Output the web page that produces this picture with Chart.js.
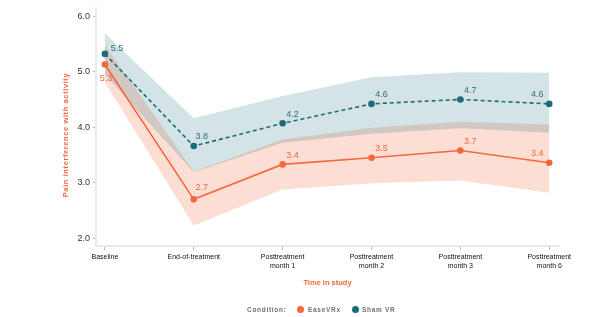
<!DOCTYPE html>
<html>
<head>
<meta charset="utf-8">
<script src="https://cdn.jsdelivr.net/npm/chart.js@4"></script>
<style>
  body { margin: 0; background: #fff; }
  #wrap { position: relative; width: 604px; height: 317px; }
  .leg { position: absolute; top: 304px; font: bold 6.5px "Liberation Sans", Arial, sans-serif; color: #707070; letter-spacing: 0.7px; line-height: 12px; white-space: nowrap; }
  .dot { position: absolute; top: 306px; width: 7px; height: 7px; border-radius: 50%; }
</style>
</head>
<body>
<div id="wrap">
  <canvas id="painChart" width="604" height="317"></canvas>
  <span class="leg" style="left:247px">Condition:</span>
  <span class="dot" style="left:296.5px;background:#f4683a"></span>
  <span class="leg" style="left:308px">EaseVRx</span>
  <span class="dot" style="left:351.5px;background:#1d6a78"></span>
  <span class="leg" style="left:362px">Sham VR</span>
</div>
<script>
const timepoints = ['Baseline', 'End-of-treatment', ['Posttreatment', 'month 1'], ['Posttreatment', 'month 2'], ['Posttreatment', 'month 3'], ['Posttreatment', 'month 6']];

const easeMeans = [5.13, 2.70, 3.33, 3.45, 3.58, 3.36];
const easeLow = [4.81, 2.23, 2.88, 2.99, 3.04, 2.82];
const easeHigh = [5.48, 3.20, 3.78, 3.99, 4.10, 4.05];
const easeLabels = ['5.3', '2.7', '3.4', '3.5', '3.7', '3.4'];

const shamMeans = [5.32, 3.66, 4.07, 4.42, 4.50, 4.42];
const shamLow = [4.95, 3.19, 3.72, 3.88, 3.98, 3.90];
const shamHigh = [5.69, 4.16, 4.56, 4.90, 4.99, 4.98];
const shamLabels = ['5.5', '3.8', '4.2', '4.6', '4.7', '4.6'];

const yTicks = [2, 3, 4, 5, 6];

const ORANGE = '#f4683a';
const TEAL = '#1d6a78';
const FONT = '"Liberation Sans", Arial, sans-serif';

function pts(arr) {
    return arr.map((v, i) => ({x: i, y: v}));
}

// value labels next to the mean points
const pointLabels = {
    id: 'pointLabels',
    afterDatasetsDraw(chart) {
        const ctx = chart.ctx;
        ctx.save();
        ctx.font = '9px ' + FONT;
        ctx.textAlign = 'center';
        ctx.textBaseline = 'middle';
        chart.data.datasets.forEach((ds, di) => {
            if (!ds.valueLabels) return;
            const meta = chart.getDatasetMeta(di);
            meta.data.forEach((p, i) => {
                let dx = 10, dy = -9;
                if (i === 0) { dx = ds.isEase ? 1 : 12; dy = ds.isEase ? 14 : -5; }
                if (i === 1) { dx = 8; dy = ds.isEase ? -12 : -10; }
                if (i === meta.data.length - 1) { dx = -12; dy = -9; }
                ctx.fillStyle = ds.labelColor;
                ctx.fillText(ds.valueLabels[i], p.x + dx, p.y + dy);
            });
        });
        ctx.restore();
    }
};

// rotated y axis title
const yTitle = {
    id: 'yTitle',
    afterDraw(chart) {
        const ctx = chart.ctx;
        ctx.save();
        ctx.translate(66, 135);
        ctx.rotate(-Math.PI / 2);
        ctx.font = 'bold 7.5px ' + FONT;
        ctx.letterSpacing = '0.6px';
        ctx.fillStyle = ORANGE;
        ctx.textAlign = 'center';
        ctx.textBaseline = 'middle';
        ctx.fillText('Pain interference with activity', 0, 0);
        ctx.restore();
    }
};

new Chart(document.getElementById('painChart').getContext('2d'), {
    type: 'line',
    data: {
        datasets: [
            {data: pts(shamLow), borderWidth: 0, pointRadius: 0, fill: false, order: 2},
            {data: pts(shamHigh), borderWidth: 0, pointRadius: 0, fill: {target: 0}, backgroundColor: 'rgba(29,106,120,0.19)', order: 2},
            {data: pts(easeLow), borderWidth: 0, pointRadius: 0, fill: false, order: 3},
            {data: pts(easeHigh), borderWidth: 0, pointRadius: 0, fill: {target: 2}, backgroundColor: 'rgba(244,104,58,0.22)', order: 3},
            {
                label: 'EaseVRx', data: pts(easeMeans), borderColor: ORANGE, backgroundColor: ORANGE,
                borderWidth: 1.6, pointRadius: 3.3, pointBorderWidth: 0, fill: false, order: 1,
                valueLabels: easeLabels, labelColor: '#f06a3e', isEase: true
            },
            {
                label: 'Sham VR', data: pts(shamMeans), borderColor: TEAL, backgroundColor: TEAL,
                borderWidth: 1.6, borderDash: [4, 3], pointRadius: 3.3, pointBorderWidth: 0, fill: false, order: 0,
                valueLabels: shamLabels, labelColor: '#2b6f7c'
            }
        ]
    },
    options: {
        responsive: false,
        animation: false,
        layout: {padding: {top: 5, right: 45, left: 0, bottom: 29}},
        plugins: {
            legend: {display: false},
            tooltip: {enabled: false}
        },
        scales: {
            x: {
                type: 'linear',
                min: -0.1,
                max: 5.11,
                afterBuildTicks: scale => { scale.ticks = timepoints.map((t, i) => ({value: i})); },
                afterFit: scale => { scale.height = 42; },
                ticks: {
                    autoSkip: false,
                    maxRotation: 0,
                    padding: 2,
                    color: '#111',
                    font: {family: FONT, size: 7, lineHeight: 1.33},
                    callback: (v, i) => timepoints[i]
                },
                grid: {drawOnChartArea: false, drawTicks: true, tickLength: 4, color: '#bbb'},
                border: {color: '#e2ecf1', width: 2},
                title: {
                    display: true,
                    text: 'Time in study',
                    color: ORANGE,
                    font: {family: FONT, size: 7.5, weight: 'bold'},
                    padding: {top: 0, bottom: 1}
                }
            },
            y: {
                min: 1.86,
                max: 6.14,
                afterBuildTicks: scale => { scale.ticks = yTicks.map(v => ({value: v})); },
                afterFit: scale => { scale.width = 96; },
                ticks: {
                    padding: 3,
                    color: '#333',
                    font: {family: FONT, size: 9},
                    callback: v => v.toFixed(1)
                },
                grid: {drawOnChartArea: false, drawTicks: true, tickLength: 3, color: '#bbb'},
                border: {color: '#e2ecf1', width: 2}
            }
        }
    },
    plugins: [pointLabels, yTitle]
});
</script>
</body>
</html>
